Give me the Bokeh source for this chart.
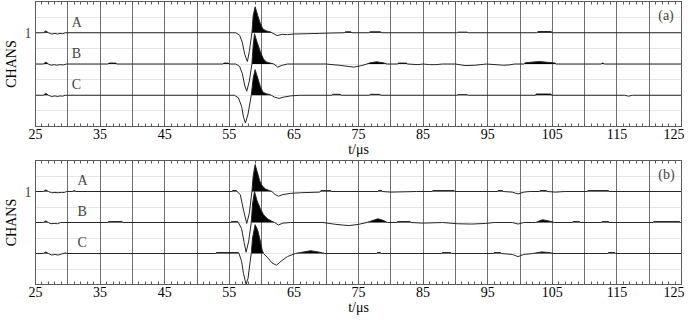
import numpy as np
from bokeh.plotting import figure
from bokeh.models import FixedTicker, LinearAxis, Label, Range1d, ColumnDataSource, Grid
from bokeh.layouts import column
from bokeh.embed import file_html
from bokeh.resources import INLINE

# ---------------- data ----------------
TICK_LABELS = [25, 35, 45, 55, 65, 75, 85, 95, 105, 115, 125]
GRID_T = [30, 35, 40, 45, 50, 55, 60, 65, 70, 75, 80, 85, 90, 95, 100, 105, 110, 115, 120]
MINOR_T = list(range(25, 126))
CHANNELS = ["A", "B", "C"]
CHANNEL_TICK = {3: "1"}

# (t in microseconds, amplitude in channel-spacing units)
a_A = [(25, 0), (26.2, 0), (26.6, 0.06), (27.0, 0), (27.5, -0.04), (28.0, -0.02), (28.4, -0.04),
       (28.8, -0.02), (29.2, -0.03), (29.6, 0), (56.0, 0), (56.6, -0.08), (57.0, -0.3), (57.4, -0.7),
       (57.8, -0.92), (58.1, -0.6), (58.5, 0), (58.7, 0.55), (59.0, 0.83), (59.4, 0.55), (59.8, 0.3),
       (60.2, 0.12), (60.7, 0.06), (61.3, 0.03), (61.6, 0), (62.4, -0.09), (63.2, -0.05), (64.0, -0.06),
       (65.0, -0.04), (67.0, -0.03), (69.0, -0.02), (70.5, -0.01), (72.8, 0), (73.0, 0.03), (73.8, 0.03),
       (74.0, 0), (76.6, 0), (76.8, 0.03), (78.4, 0.03), (78.6, 0), (90.2, 0), (90.4, 0.02), (91.8, 0.02),
       (92.0, 0), (102.6, 0), (102.8, 0.04), (104.8, 0.04), (105.0, 0), (125, 0)]
a_B = [(25, 0), (26.2, 0), (26.6, 0.06), (27.0, 0), (27.4, -0.04), (27.9, -0.02), (28.3, -0.04),
       (28.8, -0.02), (29.3, -0.03), (29.8, 0), (36.2, 0), (36.4, 0.03), (37.4, 0.03), (37.6, 0),
       (54.0, 0), (54.2, 0.03), (54.8, 0.03), (55.0, 0), (56.0, 0), (56.6, -0.08), (57.0, -0.3),
       (57.4, -0.7), (57.7, -0.87), (58.1, -0.55), (58.5, 0), (58.7, 0.6), (58.9, 0.97), (59.3, 0.7),
       (59.8, 0.4), (60.3, 0.15), (60.8, 0.06), (61.3, 0.03), (61.9, 0), (62.5, -0.1), (63.2, -0.04),
       (64.0, 0), (70.0, 0), (72.0, -0.04), (74.3, -0.1), (75.5, -0.05), (76.3, 0), (76.8, 0.04),
       (77.8, 0.07), (78.8, 0.04), (79.4, 0), (81.0, 0), (81.2, 0.03), (82.4, 0.03), (82.6, 0),
       (84.2, -0.02), (85.0, 0), (86.0, -0.02), (87.0, -0.02), (88.0, 0), (90.0, 0), (91.5, -0.05),
       (93.0, -0.04), (94.8, 0), (97.5, -0.04), (98.3, -0.03), (99.2, 0), (100.6, 0), (100.8, 0.04),
       (103.0, 0.08), (105.4, 0.03), (105.6, 0), (112.6, 0), (112.7, 0.03), (112.9, 0.03), (113.0, 0),
       (125, 0)]
a_C = [(25, 0), (26.2, 0), (26.6, 0.06), (27.0, 0), (27.5, -0.04), (28.0, -0.02), (28.4, -0.04),
       (28.8, -0.02), (29.2, -0.03), (29.6, 0), (55.8, 0), (56.4, -0.08), (56.9, -0.35), (57.2, -0.7),
       (57.5, -0.89), (57.9, -0.6), (58.4, 0), (58.7, 0.55), (59.0, 0.82), (59.4, 0.55), (59.8, 0.28),
       (60.2, 0.1), (60.7, 0.05), (61.3, 0.02), (61.5, 0), (62.0, -0.06), (62.7, -0.1), (63.4, -0.06),
       (64.5, -0.02), (66, 0), (70.9, 0), (71.0, 0.03), (72.2, 0.03), (72.3, 0), (76.7, 0), (76.8, 0.03),
       (78.3, 0.03), (78.4, 0), (90.2, 0), (90.4, 0.02), (91.8, 0.02), (92.0, 0), (102.4, 0),
       (102.5, 0.04), (104.8, 0.04), (104.9, 0), (116.2, 0), (116.8, -0.03), (117.4, 0), (125, 0)]

b_A = [(25, 0), (26.2, 0), (26.6, 0.05), (27.0, 0), (27.5, -0.04), (28.0, -0.03), (28.5, -0.04),
       (29.0, -0.03), (29.5, -0.03), (29.8, 0), (30.8, 0), (30.9, 0.03), (31.1, 0.03), (31.2, 0),
       (55.4, 0), (55.5, 0.03), (56.1, 0.03), (56.2, 0), (56.7, -0.1), (57.2, -0.6), (57.7, -1.03),
       (58.1, -0.7), (58.5, 0), (58.7, 0.5), (59.0, 0.87), (59.3, 0.65), (59.7, 0.35), (60.1, 0.18),
       (60.6, 0.08), (61.2, 0.03), (61.6, 0), (62.1, -0.1), (62.6, -0.15), (63.3, -0.1), (64.5, -0.06),
       (66, -0.04), (69.0, -0.02), (69.2, 0.03), (70.7, 0.03), (70.8, 0), (78.0, 0), (78.1, 0.03),
       (78.6, 0.03), (78.7, 0), (80, -0.02), (84, 0), (86.4, 0), (86.5, 0.03), (89.8, 0.03), (89.9, 0),
       (96.5, 0), (96.6, 0.03), (97.3, 0.03), (97.4, 0), (98.8, -0.02), (99.7, -0.08), (100.6, -0.02),
       (101.5, 0), (103.0, 0), (103.1, 0.03), (104.1, 0.03), (104.2, 0), (105.5, -0.02), (107, 0),
       (110.4, 0), (110.5, 0.03), (113.7, 0.03), (113.8, 0), (125, 0)]
b_B = [(25, 0), (26.2, 0), (26.6, 0.05), (27.0, 0), (27.4, -0.04), (27.9, -0.03), (28.4, -0.04),
       (28.9, 0), (36.2, 0), (36.3, 0.03), (38.4, 0.03), (38.5, 0), (55.2, 0), (55.3, 0.03), (56.3, 0.03),
       (56.4, 0), (56.9, -0.2), (57.3, -0.65), (57.6, -0.96), (58.0, -0.6), (58.4, 0), (58.6, 0.6),
       (58.9, 1.0), (59.3, 0.7), (59.8, 0.45), (60.3, 0.25), (60.9, 0.12), (61.5, 0.05), (62.0, 0),
       (62.6, -0.08), (63.3, -0.02), (64.5, 0), (69.5, 0), (71.5, -0.06), (73.5, -0.1), (75.0, -0.06),
       (76.3, 0), (77.3, 0.07), (78.0, 0.12), (78.8, 0.07), (79.5, 0), (80.9, 0), (81.0, 0.03),
       (83.0, 0.03), (83.1, 0), (85, -0.02), (88, 0), (90.3, -0.04), (92.5, -0.05), (94.7, -0.03),
       (96, 0), (98.8, 0), (99.7, -0.05), (100.6, 0), (102.4, 0), (103.5, 0.09), (105.1, 0.02),
       (105.3, 0), (108.1, 0), (108.2, 0.03), (109.2, 0.03), (109.3, 0), (112.6, 0), (112.7, 0.03),
       (113.7, 0.03), (113.8, 0), (120.6, 0), (120.7, 0.03), (124.7, 0.03), (124.8, 0), (125, 0)]
b_C = [(25, 0), (26.2, 0), (26.6, 0.05), (27.0, 0), (27.5, -0.05), (28.0, -0.03), (28.5, -0.05),
       (29.0, -0.02), (29.6, 0.02), (29.9, 0), (52.9, 0), (53.0, 0.03), (56.4, 0.03), (56.5, 0),
       (56.9, -0.25), (57.2, -0.65), (57.6, -1.0), (57.9, -0.8), (58.2, -0.3), (58.4, 0), (58.6, 0.5),
       (59.0, 0.93), (59.4, 0.75), (59.8, 0.4), (60.1, 0.1), (60.3, 0), (61.0, -0.15), (61.6, -0.3),
       (62.3, -0.38), (63.0, -0.25), (64.0, -0.1), (65.2, 0), (66.0, 0.03), (67.6, 0.09), (69.0, 0.04),
       (69.8, 0), (77.8, 0), (77.9, 0.03), (78.4, 0.03), (78.5, 0), (87.9, 0), (88.0, 0.03), (89.3, 0.03),
       (89.4, 0), (95.9, 0), (96.0, 0.03), (97.0, 0.03), (97.1, 0), (98.8, -0.03), (99.7, -0.1),
       (100.6, -0.03), (102.0, 0), (103.3, 0.05), (104.6, 0.03), (105.1, 0), (113.6, 0), (113.7, 0.03),
       (114.7, 0.03), (114.8, 0), (125, 0)]

# ---------------- styling ----------------
FONT = "Liberation Serif"
FRAME = "#5a5a5a"
GRIDC = "#6e6e6e"
TRACE = "#262626"


def make_panel(traces, tag, height, name_x):
    p = figure(width=684, height=height, x_range=Range1d(25, 125), y_range=Range1d(0, 4),
               output_backend="svg", toolbar_location=None,
               x_axis_location=None, y_axis_location=None,
               min_border_left=27, min_border_right=3, min_border_top=1, min_border_bottom=10)
    p.outline_line_color = FRAME
    p.outline_line_width = 1
    p.background_fill_color = "white"
    p.border_fill_color = "white"

    xt = FixedTicker(ticks=TICK_LABELS, minor_ticks=MINOR_T)
    common = dict(ticker=xt, major_tick_in=3, major_tick_out=0, minor_tick_in=3, minor_tick_out=0,
                  axis_line_color=FRAME, major_tick_line_color=FRAME, minor_tick_line_color=FRAME)
    xb = LinearAxis(major_label_standoff=2, major_label_text_font=FONT,
                    major_label_text_font_size="14px", major_label_text_color="black",
                    axis_label="t/μs", axis_label_text_font=FONT, axis_label_text_font_size="14px",
                    axis_label_text_font_style="normal", axis_label_standoff=0,
                    axis_label_text_color="black", **common)
    p.add_layout(xb, "below")
    xa = LinearAxis(major_label_standoff=0, major_label_text_font_size="0px",
                    major_label_text_alpha=0, **common)
    p.add_layout(xa, "above")

    yl = LinearAxis(ticker=FixedTicker(ticks=[3]), major_label_overrides=CHANNEL_TICK,
                    axis_label="CHANS", axis_label_text_font=FONT, axis_label_text_font_size="14px",
                    axis_label_text_font_style="normal", axis_label_standoff=3,
                    axis_label_text_color="black",
                    major_label_text_font=FONT, major_label_text_font_size="14px",
                    major_label_standoff=4, major_tick_in=0, major_tick_out=0,
                    minor_tick_line_color=None, axis_line_color=FRAME)
    p.add_layout(yl, "left")

    p.add_layout(Grid(dimension=0, ticker=FixedTicker(ticks=GRID_T),
                      grid_line_color=GRIDC, grid_line_width=1))

    for i, (trace, name) in enumerate(zip(traces, CHANNELS)):
        base = 3 - i
        t = np.array([a for a, _ in trace], dtype=float)
        v = np.array([b for _, b in trace], dtype=float)
        src = ColumnDataSource(dict(t=t, y=base + v, lo=np.full_like(v, base),
                                    hi=base + np.maximum(v, 0)))
        p.varea(x="t", y1="lo", y2="hi", source=src, fill_color="black")
        p.line(x="t", y="y", source=src, line_color=TRACE, line_width=1)
        p.add_layout(Label(x=name_x, y=base + 0.1, text=name, text_font=FONT,
                           text_font_size="14px", text_baseline="bottom", text_align="left"))

    p.add_layout(Label(x=121.4, y=3.8, text=tag, text_font=FONT, text_font_size="14px",
                       text_baseline="top", text_align="left"))
    return p


pa = make_panel([a_A, a_B, a_C], "(a)", 159, 30.6)
pb = make_panel([b_A, b_B, b_C], "(b)", 158, 31.5)
layout = column(pa, pb, spacing=0)

open("out.html", "w").write(file_html(layout, INLINE))
